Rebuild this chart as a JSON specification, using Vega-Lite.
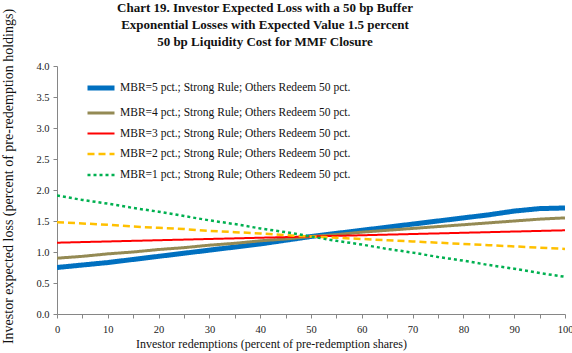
{
  "$schema": "https://vega.github.io/schema/vega-lite/v6.json",
  "width": 508,
  "height": 248,
  "autosize": {"type": "none"},
  "padding": {"left": 57, "top": 66, "right": 7, "bottom": 39},
  "background": "white",
  "config": {
    "view": {"stroke": null},
    "font": "Liberation Serif",
    "axis": {"grid": false, "domainColor": "#868686", "tickColor": "#868686", "labelColor": "#222222", "titleColor": "#111111", "labelFont": "Liberation Serif", "titleFont": "Liberation Serif", "titleFontWeight": "normal", "labelFontSize": 10.5, "titleFontSize": 12}
  },
  "title": {
    "text": ["Chart 19.  Investor Expected Loss with a 50 bp Buffer", "Exponential Losses with Expected Value 1.5 percent", "50 bp Liquidity Cost for MMF Closure"],
    "font": "Liberation Serif",
    "fontSize": 13,
    "fontWeight": "bold",
    "color": "#111111",
    "anchor": "middle",
    "dx": -46,
    "dy": 41,
    "lineHeight": 17,
    "offset": 0
  },
  "data": {
    "values": [
      {"r": 0, "m5": 0.75, "m4": 0.90, "m3": 1.15, "m2": 1.48, "m1": 1.91},
      {"r": 5, "m5": 0.79, "m4": 0.93, "m3": 1.16, "m2": 1.46, "m1": 1.84},
      {"r": 10, "m5": 0.83, "m4": 0.97, "m3": 1.17, "m2": 1.44, "m1": 1.78},
      {"r": 15, "m5": 0.88, "m4": 1.00, "m3": 1.18, "m2": 1.41, "m1": 1.71},
      {"r": 20, "m5": 0.93, "m4": 1.04, "m3": 1.19, "m2": 1.39, "m1": 1.65},
      {"r": 25, "m5": 0.98, "m4": 1.07, "m3": 1.20, "m2": 1.37, "m1": 1.58},
      {"r": 30, "m5": 1.03, "m4": 1.11, "m3": 1.21, "m2": 1.34, "m1": 1.51},
      {"r": 35, "m5": 1.08, "m4": 1.14, "m3": 1.22, "m2": 1.32, "m1": 1.45},
      {"r": 40, "m5": 1.13, "m4": 1.18, "m3": 1.23, "m2": 1.30, "m1": 1.38},
      {"r": 45, "m5": 1.19, "m4": 1.21, "m3": 1.24, "m2": 1.27, "m1": 1.32},
      {"r": 50, "m5": 1.25, "m4": 1.25, "m3": 1.25, "m2": 1.25, "m1": 1.25},
      {"r": 55, "m5": 1.30, "m4": 1.28, "m3": 1.26, "m2": 1.23, "m1": 1.18},
      {"r": 60, "m5": 1.35, "m4": 1.32, "m3": 1.27, "m2": 1.21, "m1": 1.12},
      {"r": 65, "m5": 1.40, "m4": 1.35, "m3": 1.28, "m2": 1.19, "m1": 1.05},
      {"r": 70, "m5": 1.45, "m4": 1.38, "m3": 1.29, "m2": 1.17, "m1": 0.99},
      {"r": 75, "m5": 1.50, "m4": 1.41, "m3": 1.30, "m2": 1.15, "m1": 0.92},
      {"r": 80, "m5": 1.55, "m4": 1.44, "m3": 1.31, "m2": 1.13, "m1": 0.86},
      {"r": 85, "m5": 1.60, "m4": 1.47, "m3": 1.32, "m2": 1.11, "m1": 0.79},
      {"r": 90, "m5": 1.66, "m4": 1.50, "m3": 1.33, "m2": 1.09, "m1": 0.73},
      {"r": 95, "m5": 1.70, "m4": 1.53, "m3": 1.34, "m2": 1.07, "m1": 0.66},
      {"r": 100, "m5": 1.71, "m4": 1.55, "m3": 1.35, "m2": 1.05, "m1": 0.60}
    ]
  },
  "transform": [{"fold": ["m5", "m4", "m3", "m2", "m1"], "as": ["s", "loss"]}],
  "mark": {"type": "line", "clip": true},
  "encoding": {
    "x": {
      "field": "r", "type": "quantitative",
      "scale": {"domain": [0, 100], "nice": false},
      "axis": {
        "title": "Investor redemptions (percent of pre-redemption shares)",
        "values": [0, 5, 10, 15, 20, 25, 30, 35, 40, 45, 50, 55, 60, 65, 70, 75, 80, 85, 90, 95, 100],
        "labelExpr": "datum.value % 10 == 0 ? datum.label : ''",
        "labelFont": "Liberation Serif", "titleFont": "Liberation Serif",
        "tickSize": 4, "labelPadding": 6, "titlePadding": 4, "titleX": 214,
        "labelFlush": false
      }
    },
    "y": {
      "field": "loss", "type": "quantitative",
      "scale": {"domain": [0, 4], "nice": false},
      "axis": {
        "title": "Investor expected loss (percent of pre-redemption holdings)",
        "values": [0, 0.5, 1, 1.5, 2, 2.5, 3, 3.5, 4],
        "labelFont": "Liberation Serif", "titleFont": "Liberation Serif", "titleFontSize": 14,
        "format": ".1f", "tickSize": 4, "labelPadding": 4, "titlePadding": 20, "titleY": 110
      }
    },
    "color": {
      "field": "s", "type": "nominal",
      "scale": {"domain": ["m5", "m4", "m3", "m2", "m1"], "range": ["#0070C0", "#948A54", "#FF0000", "#FFC000", "#00B050"]},
      "legend": {
        "title": null, "orient": "none", "legendX": 28, "legendY": 6,
        "symbolType": "stroke", "symbolSize": 729, "rowPadding": -5,
        "labelFont": "Liberation Serif", "labelFontSize": 11.5, "labelColor": "#111111", "labelOffset": 3, "labelLimit": 400,
        "labelExpr": "'MBR=' + slice(datum.label, 1) + ' pct.; Strong Rule; Others Redeem 50 pct.'"
      }
    },
    "strokeWidth": {
      "field": "s", "type": "nominal",
      "scale": {"type": "ordinal", "domain": ["m5", "m4", "m3", "m2", "m1"], "range": [5, 3, 2, 2.5, 2.5]},
      "legend": null
    },
    "strokeDash": {
      "field": "s", "type": "nominal",
      "scale": {"domain": ["m5", "m4", "m3", "m2", "m1"], "range": [[1, 0], [1, 0], [1, 0], [7, 4], [3, 3]]},
      "legend": null
    }
  }
}
